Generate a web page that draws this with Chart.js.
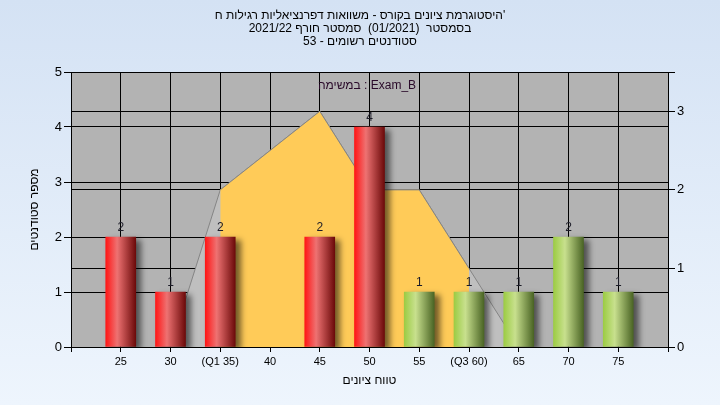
<!DOCTYPE html>
<html lang="he">
<head>
<meta charset="UTF-8">
<title>היסטוגרמת ציונים</title>
<script src="https://cdn.jsdelivr.net/npm/chart.js"></script>
<style>
    html, body {
        margin: 0;
        padding: 0;
    }
    body {
        width: 720px;
        height: 405px;
        overflow: hidden;
    }
    .chart-box {
        position: relative;
        width: 720px;
        height: 405px;
    }
</style>
</head>
<body>
<div class="chart-box"><canvas id="histChart"></canvas></div>
<script>
    // grade buckets (first / last slot are empty edges of the axis)
    const gradeLabels = ['', '25', '30', '(Q1 35)', '40', '45', '50', '55', '(Q3 60)', '65', '70', '75', ''];
    const studentCounts = [null, 2, 1, 2, 0, 2, 4, 1, 1, 1, 2, 1, null];
    const barGroups = [null, 'red', 'red', 'red', 'red', 'red', 'red', 'green', 'green', 'green', 'green', 'green', null];

    // distribution curve on the right axis, and the Q1-Q3 part of it
    const curveValues = [null, null, 0, 2, 2.5, 3, 2, 2, 1, 0, null, null, null];
    const iqrValues = [null, null, null, 2, 2.5, 3, 2, 2, 1, null, null, null, null];

    const titleLines = [
        "היסטוגרמת ציונים בקורס - משוואות דפרנציאליות רגילות ח'",
        'בסמסטר  (01/2021)  סמסטר חורף 2021/22',
        'סטודנטים רשומים - 53'
    ];
    const taskLabel = 'במשימה : Exam_B';
    const xTitle = 'טווח ציונים';
    const yTitle = 'מספר סטודנטים';

    const FONT = "'Liberation Sans', Arial, sans-serif";

    const redStops = [[0, '#ff1616'], [0.38, '#ee7272'], [1, '#6c0a0a']];
    const greenStops = [[0, '#9ccc44'], [0.38, '#c8e08e'], [1, '#4a6424']];

    function barFill(ctx) {
        const chart = ctx.chart;
        if (!studentCounts[ctx.dataIndex]) return 'rgba(0,0,0,0)';
        if (!chart.chartArea) return '#ff0000';
        const x = chart.scales.x.getPixelForValue(ctx.dataIndex);
        const g = chart.ctx.createLinearGradient(x - 15, 0, x + 15, 0);
        const stops = barGroups[ctx.dataIndex] === 'green' ? greenStops : redStops;
        stops.forEach(s => g.addColorStop(s[0], s[1]));
        return g;
    }

    // page background and grey plot area
    const backdrop = {
        id: 'backdrop',
        beforeDraw(chart) {
            const c = chart.ctx;
            const a = chart.chartArea;
            const g = c.createLinearGradient(0, 0, 0, chart.height);
            g.addColorStop(0, '#d4e2f4');
            g.addColorStop(1, '#eef5fd');
            c.save();
            c.fillStyle = g;
            c.fillRect(0, 0, chart.width, chart.height);
            c.fillStyle = '#b3b3b3';
            c.fillRect(a.left, a.top, a.right - a.left, a.bottom - a.top);
            c.restore();
        }
    };

    // soft shadow behind the bars
    const barShadow = {
        id: 'barShadow',
        beforeDatasetDraw(chart, args) {
            if (args.meta.type !== 'bar') return;
            const c = chart.ctx;
            c.save();
            c.shadowColor = 'rgba(0, 0, 0, 0.55)';
            c.shadowBlur = 6;
            c.shadowOffsetX = 5;
            c.shadowOffsetY = 3;
        },
        afterDatasetDraw(chart, args) {
            if (args.meta.type === 'bar') chart.ctx.restore();
        }
    };

    // value labels over bars + task caption
    const barLabels = {
        id: 'barLabels',
        afterDatasetsDraw(chart) {
            const c = chart.ctx;
            c.save();
            c.font = '12px ' + FONT;
            c.fillStyle = '#1c1c28';
            c.textAlign = 'center';
            c.textBaseline = 'bottom';
            chart.data.datasets.forEach((ds, i) => {
                const meta = chart.getDatasetMeta(i);
                if (meta.type !== 'bar') return;
                meta.data.forEach((el, j) => {
                    const v = ds.data[j];
                    if (!v) return;
                    c.fillText(String(v), el.x, el.y - 3);
                });
            });
            c.fillStyle = '#2a0a2a';
            c.textBaseline = 'middle';
            c.fillText(taskLabel, 367, 86);
            c.restore();
        }
    };

    new Chart(document.getElementById('histChart'), {
        type: 'bar',
        data: {
            labels: gradeLabels,
            datasets: [
                {
                    type: 'bar',
                    data: studentCounts,
                    yAxisID: 'y',
                    order: 1,
                    barThickness: 30,
                    borderWidth: 0,
                    backgroundColor: barFill
                },
                {
                    type: 'line',
                    data: iqrValues,
                    yAxisID: 'y2',
                    order: 2,
                    fill: 'origin',
                    backgroundColor: '#ffcb58',
                    borderColor: '#858585',
                    borderWidth: 1,
                    pointRadius: 0,
                    tension: 0
                },
                {
                    type: 'line',
                    data: curveValues,
                    yAxisID: 'y2',
                    order: 3,
                    fill: 'origin',
                    backgroundColor: '#bfbfbf',
                    borderColor: '#858585',
                    borderWidth: 1,
                    pointRadius: 0,
                    tension: 0
                }
            ]
        },
        options: {
            responsive: true,
            maintainAspectRatio: false,
            animation: false,
            layout: { padding: 0 },
            plugins: {
                legend: { display: false },
                tooltip: { enabled: false },
                title: {
                    display: true,
                    text: titleLines,
                    color: '#000',
                    font: { family: FONT, size: 12, weight: 'normal', lineHeight: '13px' },
                    padding: { top: 9, bottom: 24 }
                }
            },
            scales: {
                x: {
                    offset: false,
                    grid: { offset: false, color: '#000', tickColor: '#000', tickLength: 5 },
                    border: { color: '#000' },
                    ticks: { color: '#000', font: { family: FONT, size: 11 }, padding: 3, autoSkip: false, maxRotation: 0 },
                    title: { display: true, text: xTitle, color: '#000', font: { family: FONT, size: 12 }, padding: { top: 0, bottom: 17 } },
                    afterFit(scale) { scale.height = 58; }
                },
                y: {
                    position: 'left',
                    min: 0,
                    max: 5,
                    ticks: { stepSize: 1, color: '#000', font: { family: FONT, size: 13 }, padding: 2 },
                    grid: { color: '#000', tickColor: '#000', tickLength: 7 },
                    border: { color: '#000' },
                    title: { display: true, text: yTitle, color: '#000', font: { family: FONT, size: 12 }, padding: { top: 27, bottom: 0 } },
                    afterFit(scale) { scale.width = 71; }
                },
                y2: {
                    position: 'right',
                    min: 0,
                    max: 3.5,
                    ticks: {
                        stepSize: 1,
                        color: '#000',
                        font: { family: FONT, size: 13 },
                        padding: 2,
                        callback: v => Number.isInteger(v) ? v : ''
                    },
                    grid: {
                        color: c => (c.tick && Number.isInteger(c.tick.value)) ? '#000' : 'rgba(0,0,0,0)',
                        tickColor: '#000',
                        tickLength: 7
                    },
                    border: { color: '#000' },
                    afterFit(scale) { scale.width = 52; }
                }
            }
        },
        plugins: [backdrop, barShadow, barLabels]
    });
</script>
</body>
</html>
